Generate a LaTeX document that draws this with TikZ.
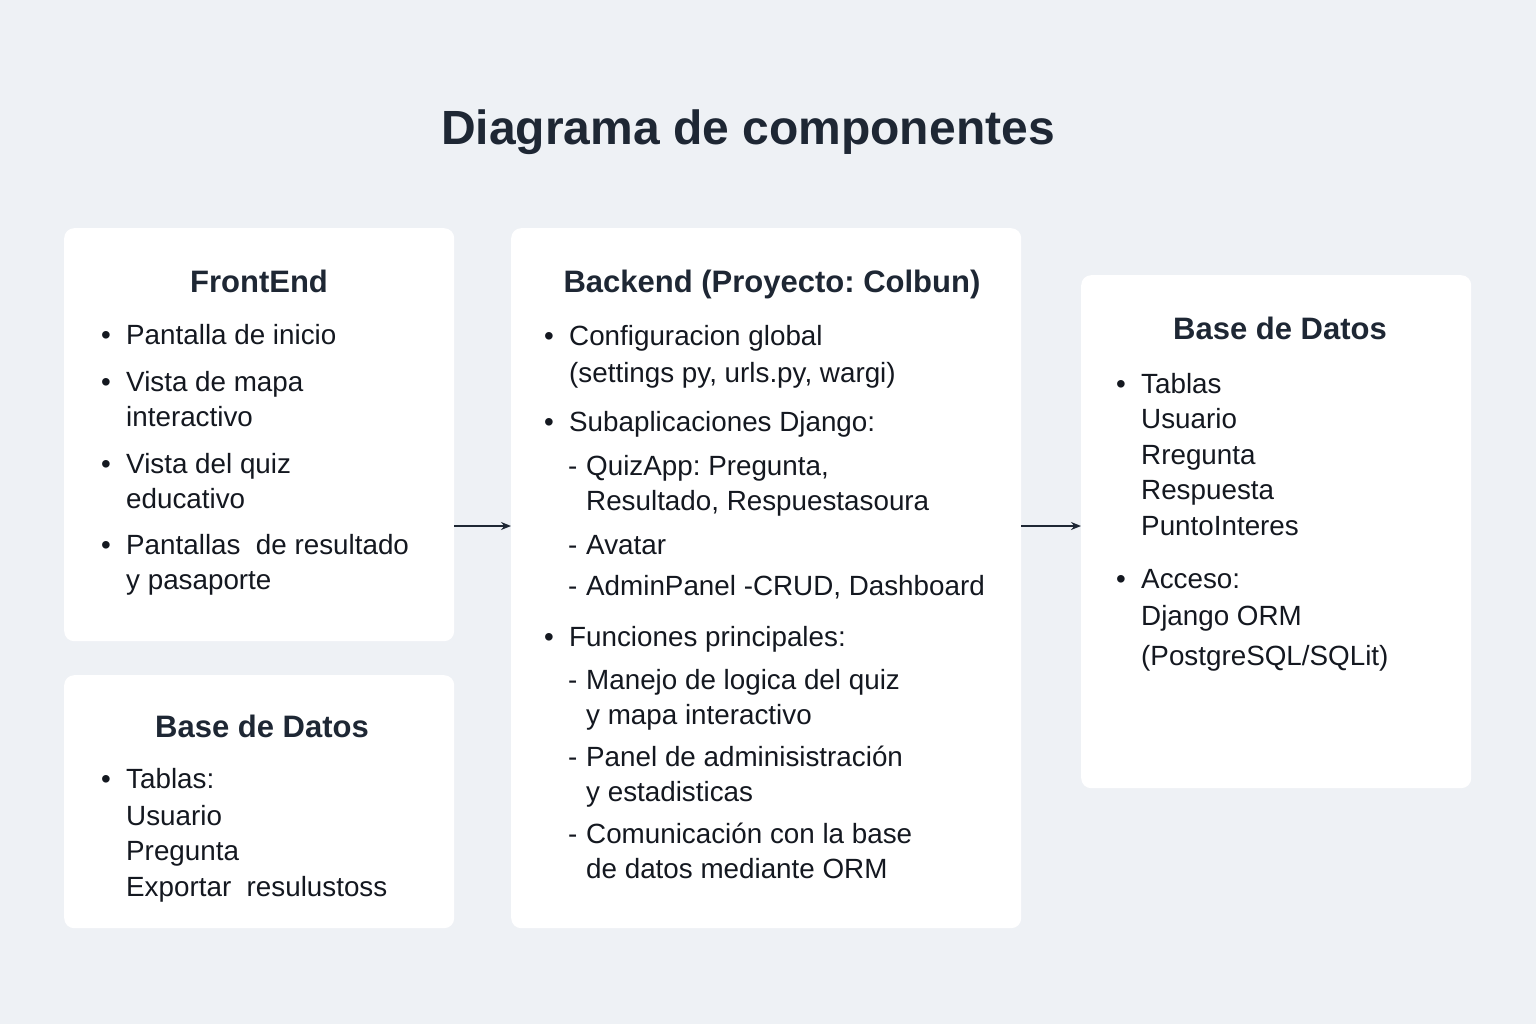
\documentclass[tikz,border=0pt]{standalone}
\usepackage{fontspec}
\setmainfont{Liberation Sans}
\usetikzlibrary{positioning,arrows.meta}
\definecolor{bgpage}{RGB}{238,241,245}
\definecolor{inktitle}{RGB}{30,39,52}
\definecolor{inkbody}{RGB}{20,24,32}
\newcommand{\itemdot}{\makebox[25pt][l]{\textbullet}}
\newcommand{\itemskip}{\hspace*{25pt}}
\newcommand{\itemdash}{\hspace*{24pt}\makebox[18pt][l]{-}}
\newcommand{\dashskip}{\hspace*{42pt}}
\frenchspacing

\begin{document}
\begin{tikzpicture}[x=1pt, y=-1pt,
    panel/.style={rectangle, fill=white, rounded corners=10pt, anchor=north west, inner sep=0pt},
    heading/.style={font=\fontsize{31}{36}\selectfont\bfseries, text=inktitle, anchor=base, inner sep=0pt},
    body/.style={font=\fontsize{27.8}{35}\selectfont, text=inkbody, align=left, anchor=base west, inner sep=0pt},
    link/.style={-{Stealth[length=10pt,width=8pt]}, line width=1.9pt, draw=inktitle}
]
    % fondo
    \fill[bgpage] (0,0) rectangle (1536,1024);
    \useasboundingbox (0,0) rectangle (1536,1024);

    \node[font=\fontsize{48}{56}\selectfont\bfseries, text=inktitle, anchor=base, inner sep=0pt] (title) at (748,145) {Diagrama de componentes};

    % cajas
    \node[panel, minimum width=390pt, minimum height=413pt] (front) at (64,228) {};
    \node[panel, minimum width=390pt, minimum height=253pt] (dbleft) at (64,675) {};
    \node[panel, minimum width=510pt, minimum height=700pt] (back) at (511,228) {};
    \node[panel, minimum width=390pt, minimum height=513pt] (dbright) at (1081,275) {};

    % titulos
    \node[heading] (fronthead) at (259,292) {FrontEnd};
    \node[heading] (backhead) at (772,292) {Backend (Proyecto: Colbun)};
    \node[heading] (dbrighthead) at (1280,339) {Base de Datos};
    \node[heading] (dblefthead) at (262,737) {Base de Datos};

    % contenido (base = ultima linea)
    \node[body] (frontlist) at (101,589) {%
        \itemdot Pantalla de inicio\\[12pt]
        \itemdot Vista de mapa\\
        \itemskip interactivo\\[12pt]
        \itemdot Vista del quiz\\
        \itemskip educativo\\[11pt]
        \itemdot Pantallas\ \ de resultado\\
        \itemskip y pasaporte};
    \node[body] (backlist) at (544,878) {%
        \itemdot Configuracion global\\[2pt]
        \itemskip (settings py, urls.py, wargi)\\[14pt]
        \itemdot Subaplicaciones Django:\\[9pt]
        \itemdash QuizApp: Pregunta,\\
        \dashskip Resultado, Respuestasoura\\[9pt]
        \itemdash Avatar\\[6pt]
        \itemdash AdminPanel -CRUD, Dashboard\\[16pt]
        \itemdot Funciones principales:\\[8pt]
        \itemdash Manejo de logica del quiz\\
        \dashskip y mapa interactivo\\[7pt]
        \itemdash Panel de adminisistración\\
        \dashskip y estadisticas\\[7pt]
        \itemdash Comunicación con la base\\
        \dashskip de datos mediante ORM};
    \node[body] (dbrightlist) at (1116,665) {%
        \itemdot Tablas\\
        \itemskip Usuario\\[1pt]
        \itemskip Rregunta\\
        \itemskip Respuesta\\[1pt]
        \itemskip PuntoInteres\\[18pt]
        \itemdot Acceso:\\[2pt]
        \itemskip Django ORM\\[5pt]
        \itemskip (PostgreSQL/SQLit)};
    \node[body] (dbleftlist) at (101,896) {%
        \itemdot Tablas:\\[2pt]
        \itemskip Usuario\\
        \itemskip Pregunta\\[1pt]
        \itemskip Exportar\ \ resulustoss};

    % conexiones
    \coordinate (lvl) at (0,526);
    \draw[link] (front.east |- lvl) -- (back.west |- lvl);
    \draw[link] (back.east |- lvl) -- (dbright.west |- lvl);
\end{tikzpicture}
\end{document}
